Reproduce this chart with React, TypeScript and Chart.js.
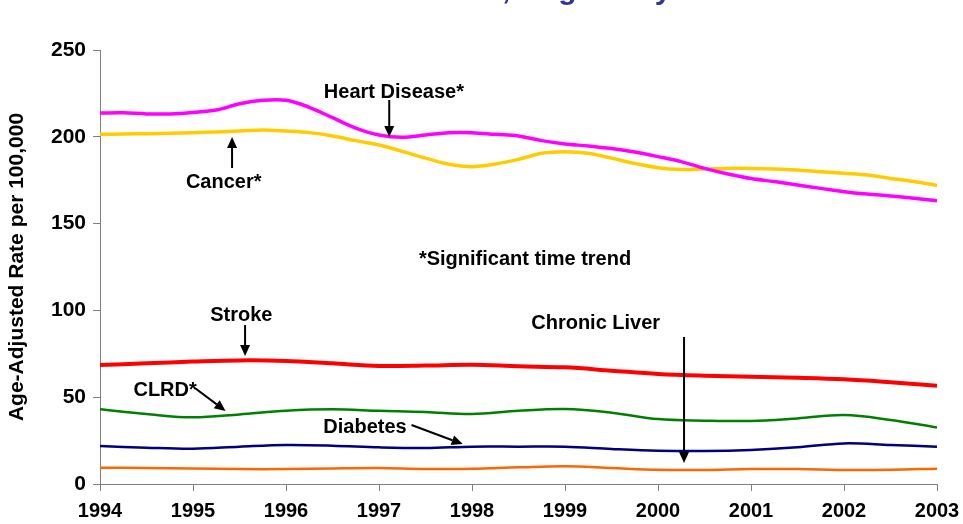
import React, { useEffect, useRef } from "react";
import { Chart, registerables } from "chart.js";

Chart.register(...registerables);

// Quarter-year sample positions for the two upper series
const quarterX = [
  1994, 1994.25, 1994.5, 1994.75, 1995, 1995.25, 1995.5, 1995.75,
  1996, 1996.25, 1996.5, 1996.75, 1997, 1997.25, 1997.5, 1997.75,
  1998, 1998.25, 1998.5, 1998.75, 1999, 1999.25, 1999.5, 1999.75,
  2000, 2000.25, 2000.5, 2000.75, 2001, 2001.25, 2001.5, 2001.75,
  2002, 2002.25, 2002.5, 2002.75, 2003,
];
// Half-year sample positions for the lower series
const halfX = [
  1994, 1994.5, 1995, 1995.5, 1996, 1996.5, 1997, 1997.5, 1998, 1998.5,
  1999, 1999.5, 2000, 2000.5, 2001, 2001.5, 2002, 2002.5, 2003,
];

const heartDisease = [
  213.7, 213.8, 213.2, 213.2, 214, 215.4, 219, 221,
  221, 217, 211, 205, 201, 199.7, 201, 202.4,
  202.4, 201.4, 200.5, 197.8, 195.9, 194.7, 193.2, 191.2,
  188.6, 185.7, 181.8, 178.6, 176, 174.2, 172.2, 170.3,
  168.4, 167, 165.9, 164.6, 163.2,
];
const cancer = [
  201.4, 201.6, 201.8, 202, 202.4, 202.8, 203.3, 203.9,
  203.3, 202.4, 200.5, 197.8, 195.3, 191.6, 187.7, 184.2,
  182.8, 184.3, 187, 190.5, 191.4, 190.5, 187.7, 184.7,
  182.2, 181.2, 181.5, 181.8, 181.8, 181.5, 180.9, 179.9,
  179, 178, 176, 174.2, 172,
];
const stroke = [
  68.5, 69.5, 70.5, 71.2, 70.9, 69.5, 68, 68.2, 68.7, 67.8,
  67.2, 65.3, 63.4, 62.4, 61.8, 61.2, 60.3, 58.6, 56.6,
];
const clrd = [
  43, 40.3, 38.4, 40.1, 42.2, 43, 42.2, 41.5, 40.3, 42.2,
  43.2, 41.1, 37.4, 36.5, 36.3, 37.8, 39.7, 36.9, 32.6,
];
const diabetes = [
  21.9, 20.9, 20.3, 21.5, 22.5, 22.1, 21.1, 20.7, 21.5, 21.5,
  21.5, 20.2, 19.2, 19, 19.6, 21.1, 23.4, 22.5, 21.5,
];
const chronicLiver = [
  9.4, 9.2, 9.0, 8.6, 8.6, 9.0, 9.2, 8.6, 8.8, 9.6,
  10.2, 9.2, 8.2, 8.1, 8.6, 8.6, 8.1, 8.2, 8.8,
];

const yTicks = [0, 50, 100, 150, 200, 250];

// Annotation labels (positions in data units)
const noteLabels = ["Heart Disease*", "Cancer*", "*Significant time trend", "Stroke", "Chronic Liver", "CLRD*", "Diabetes"];
const noteX = [1997.16, 1995.33, 1998.57, 1995.52, 1999.33, 1994.7, 1996.85];
const noteY = [225.8, 173.4, 129.6, 96.8, 92.7, 54.1, 32.8];

// Arrows (from -> to, data units)
const arrowFromX = [1997.11, 1995.42, 1995.56, 1995.02, 1997.35, 2000.28];
const arrowFromY = [221.2, 182, 91.6, 55.3, 34.0, 84.7];
const arrowToX = [1997.11, 1995.42, 1995.56, 1995.35, 1997.9, 2000.28];
const arrowToY = [199.9, 199.9, 73.7, 42.1, 23.0, 12.1];

const titleText = "Death Rates for Selected Causes, Virginia by Year";
const titleLead = "Death Rates for Selected Causes";

const FONT = "'Liberation Sans', Arial, sans-serif";

function pts(xs: number[], ys: number[]) {
  return xs.map((x, i) => ({ x, y: ys[i] }));
}

const notesPlugin = {
  id: "notes",
  afterDatasetsDraw(chart: any) {
    const { ctx, scales } = chart;
    const xs = scales.x;
    const ys = scales.y;
    ctx.save();
    // title (cut off at top, like reference)
    ctx.font = `bold 30px ${FONT}`;
    ctx.fillStyle = "#333399";
    ctx.textBaseline = "alphabetic";
    ctx.textAlign = "left";
    const lead = ctx.measureText(titleLead).width;
    ctx.fillText(titleText, 502 - lead, -1);

    ctx.font = `bold 20px ${FONT}`;
    ctx.fillStyle = "#000";
    ctx.textAlign = "center";
    ctx.textBaseline = "middle";
    noteLabels.forEach((t, i) => {
      ctx.fillText(t, xs.getPixelForValue(noteX[i]), ys.getPixelForValue(noteY[i]));
    });

    ctx.strokeStyle = "#000";
    ctx.lineWidth = 2;
    arrowFromX.forEach((_, i) => {
      const x1 = xs.getPixelForValue(arrowFromX[i]);
      const y1 = ys.getPixelForValue(arrowFromY[i]);
      const x2 = xs.getPixelForValue(arrowToX[i]);
      const y2 = ys.getPixelForValue(arrowToY[i]);
      const ang = Math.atan2(y2 - y1, x2 - x1);
      const hl = 11;
      const hw = 5;
      const bx = x2 - hl * Math.cos(ang);
      const by = y2 - hl * Math.sin(ang);
      ctx.beginPath();
      ctx.moveTo(x1, y1);
      ctx.lineTo(bx, by);
      ctx.stroke();
      ctx.beginPath();
      ctx.moveTo(x2, y2);
      ctx.lineTo(bx + hw * Math.sin(ang), by - hw * Math.cos(ang));
      ctx.lineTo(bx - hw * Math.sin(ang), by + hw * Math.cos(ang));
      ctx.closePath();
      ctx.fill();
    });
    ctx.restore();
  },
};

export default function App() {
  const ref = useRef<HTMLCanvasElement | null>(null);
  useEffect(() => {
    document.body.style.margin = "0";
    const canvas = ref.current;
    if (!canvas) return;
    const mk = (label: string, data: any[], color: string, w: number) => ({
      label,
      data,
      borderColor: color,
      backgroundColor: color,
      borderWidth: w,
      pointRadius: 0,
      tension: 0.35,
      fill: false,
    });
    const chart = new Chart(canvas, {
      type: "line",
      data: {
        datasets: [
          mk("Heart Disease", pts(quarterX, heartDisease), "#FF00FF", 3.5),
          mk("Cancer", pts(quarterX, cancer), "#FFCC00", 3.5),
          mk("Stroke", pts(halfX, stroke), "#FF0000", 4),
          mk("CLRD", pts(halfX, clrd), "#008000", 2.5),
          mk("Diabetes", pts(halfX, diabetes), "#000080", 2.5),
          mk("Chronic Liver", pts(halfX, chronicLiver), "#FF6600", 2.5),
        ],
      },
      options: {
        animation: false,
        responsive: false,
        layout: { padding: { top: 50, right: 26, left: 0, bottom: 0 } },
        plugins: {
          legend: { display: false },
          tooltip: { enabled: false },
          title: { display: false },
        },
        scales: {
          x: {
            type: "linear",
            min: 1994,
            max: 2003,
            afterFit: (s: any) => {
              s.height = 40;
              s.paddingRight = 0;
            },
            ticks: {
              stepSize: 1,
              autoSkip: false,
              maxRotation: 0,
              padding: 8,
              color: "#000",
              font: { family: FONT, size: 20, weight: "bold" },
              callback: (v: any) => String(v),
            },
            grid: { drawOnChartArea: false, drawTicks: true, tickLength: 7, color: "#808080" },
            border: { color: "#808080", width: 1 },
          },
          y: {
            min: 0,
            max: 250,
            afterFit: (s: any) => {
              s.width = 100;
            },
            afterBuildTicks: (s: any) => {
              s.ticks = yTicks.map((v) => ({ value: v }));
            },
            ticks: {
              stepSize: 50,
              padding: 7,
              color: "#000",
              font: { family: FONT, size: 21, weight: "bold" },
            },
            title: {
              display: true,
              text: "Age-Adjusted Rate per 100,000",
              color: "#000",
              font: { family: FONT, size: 21, weight: "bold" },
              padding: { top: 5, bottom: 0 },
            },
            grid: { drawOnChartArea: false, drawTicks: true, tickLength: 7, color: "#808080" },
            border: { color: "#808080", width: 1 },
          },
        },
      } as any,
      plugins: [notesPlugin],
    });
    return () => chart.destroy();
  }, []);
  return (
    <div style={{ position: "fixed", left: 0, top: 0, width: 963, height: 524 }}>
      <canvas ref={ref} width={963} height={524} style={{ width: 963, height: 524 }} />
    </div>
  );
}
